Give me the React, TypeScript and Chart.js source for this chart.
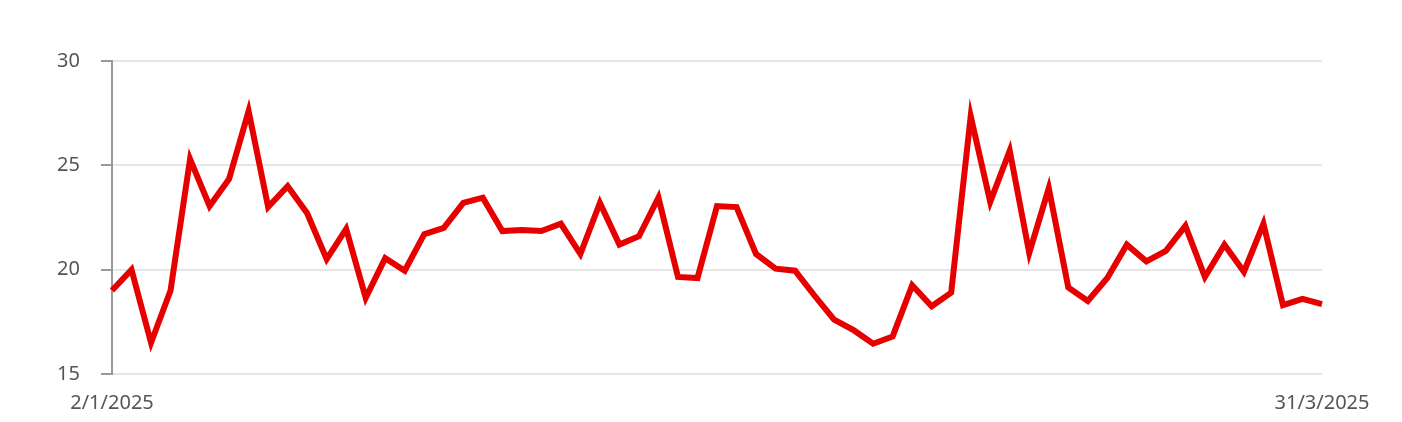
import { useEffect, useRef } from "react"
import { Chart, registerables } from "chart.js"

Chart.register(...registerables)

// trading days, 2 Jan 2025 to 31 Mar 2025
const dates = [
  "2/1/2025", "3/1/2025", "6/1/2025", "7/1/2025", "8/1/2025", "9/1/2025", "10/1/2025",
  "13/1/2025", "14/1/2025", "15/1/2025", "16/1/2025", "17/1/2025", "20/1/2025", "21/1/2025",
  "22/1/2025", "23/1/2025", "24/1/2025", "27/1/2025", "28/1/2025", "29/1/2025", "30/1/2025",
  "31/1/2025", "3/2/2025", "4/2/2025", "5/2/2025", "6/2/2025", "7/2/2025", "10/2/2025",
  "11/2/2025", "12/2/2025", "13/2/2025", "14/2/2025", "17/2/2025", "18/2/2025", "19/2/2025",
  "20/2/2025", "21/2/2025", "24/2/2025", "25/2/2025", "26/2/2025", "27/2/2025", "28/2/2025",
  "3/3/2025", "4/3/2025", "5/3/2025", "6/3/2025", "7/3/2025", "10/3/2025", "11/3/2025",
  "12/3/2025", "13/3/2025", "14/3/2025", "17/3/2025", "18/3/2025", "19/3/2025", "20/3/2025",
  "21/3/2025", "24/3/2025", "25/3/2025", "26/3/2025", "27/3/2025", "28/3/2025", "31/3/2025",
]

const values = [
  19.0, 20.0, 16.5, 19.0, 25.3, 23.05, 24.35, 27.6, 23.0, 24.0,
  22.7, 20.5, 21.95, 18.65, 20.55, 19.95, 21.7, 22.0, 23.2, 23.45,
  21.85, 21.9, 21.85, 22.2, 20.75, 23.2, 21.2, 21.6, 23.45, 19.65,
  19.6, 23.05, 23.0, 20.75, 20.05, 19.95, 18.75, 17.6, 17.1, 16.45,
  16.8, 19.25, 18.25, 18.9, 27.35, 23.25, 25.7, 20.8, 23.9, 19.15,
  18.5, 19.6, 21.2, 20.4, 20.9, 22.1, 19.65, 21.2, 19.9, 22.2,
  18.3, 18.6, 18.35,
]

const yMin = 15
const yMax = 30
const yStep = 5

export default function App() {
  const canvasRef = useRef<HTMLCanvasElement>(null)

  useEffect(() => {
    if (!canvasRef.current) return
    const ctx = canvasRef.current.getContext("2d")
    if (!ctx) return

    const font = { family: "'Noto Sans', sans-serif", size: 20 }

    const chart = new Chart(ctx, {
      type: "line",
      data: {
        labels: dates,
        datasets: [
          {
            data: values,
            borderColor: "#e60000",
            borderWidth: 6,
            pointRadius: 0,
            tension: 0,
            fill: false,
          },
        ],
      },
      options: {
        responsive: true,
        maintainAspectRatio: false,
        animation: false,
        layout: { padding: { top: 53, right: 72, left: 0, bottom: 0 } },
        plugins: { legend: { display: false }, tooltip: { enabled: false } },
        scales: {
          x: {
            grid: { display: false, drawTicks: false },
            border: { display: false },
            ticks: {
              autoSkip: false,
              maxRotation: 0,
              color: "#555",
              font,
              padding: 17,
              callback: (_v, i) => (i === 0 || i === dates.length - 1 ? dates[i] : ""),
            },
            afterFit: (scale) => {
              scale.height = 40
            },
          },
          y: {
            min: yMin,
            max: yMax,
            grid: {
              color: "#e6e6e6",
              lineWidth: 2,
              tickColor: "#999",
              tickLength: 11,
            },
            border: { color: "#999", width: 2 },
            ticks: {
              stepSize: yStep,
              color: "#555",
              font,
              padding: 21,
            },
            afterFit: (scale) => {
              scale.width = 104
            },
          },
        },
      },
    })

    return () => chart.destroy()
  }, [])

  return (
    <div style={{ position: "relative", width: "100%", height: 406 }}>
      <canvas ref={canvasRef} />
    </div>
  )
}
